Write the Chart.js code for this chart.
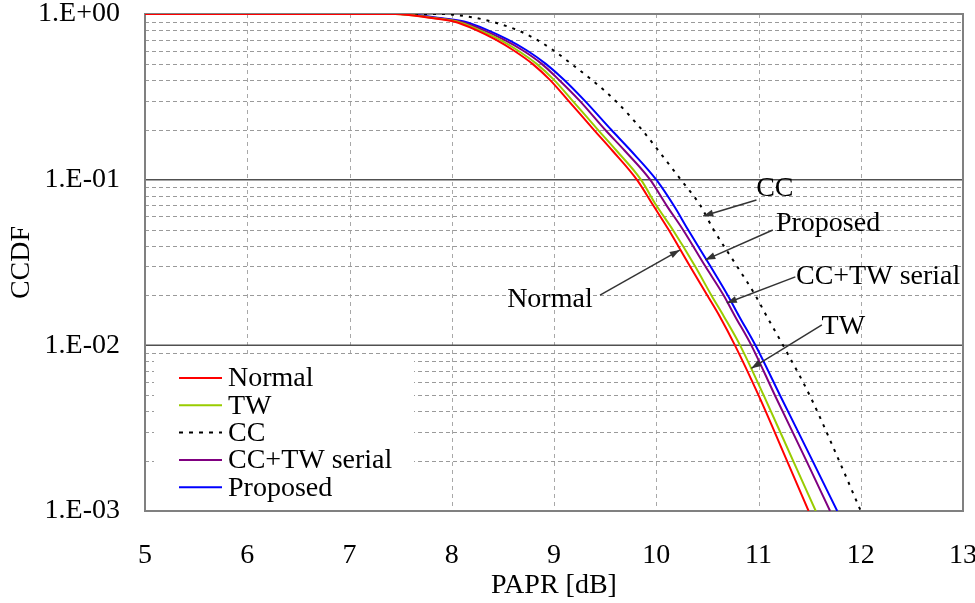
<!DOCTYPE html>
<html>
<head>
<meta charset="utf-8">
<script src="https://cdn.jsdelivr.net/npm/chart.js@4.4.1/dist/chart.umd.min.js"></script>
<style>
  html, body { margin: 0; padding: 0; background: #fff; }
  #wrap { width: 975px; height: 603px; }
</style>
</head>
<body>
<div id="wrap"><canvas id="ccdf_chart"></canvas></div>
<script>
// CCDF levels shared by every curve, and the PAPR [dB] where each curve hits them
var ccdfLevels   = [1, 0.95, 0.9, 0.8, 0.7, 0.6, 0.5, 0.4, 0.3, 0.2, 0.15, 0.1, 0.07, 0.05, 0.03, 0.02, 0.015, 0.01, 0.005, 0.002, 0.001];
var normalPapr   = [7.45, 7.78, 8.02, 8.24, 8.43, 8.61, 8.79, 8.96, 9.14, 9.39, 9.57, 9.81, 9.97, 10.12, 10.33, 10.50, 10.62, 10.77, 11.00, 11.28, 11.49];
var twPapr       = [7.45, 7.80, 8.05, 8.27, 8.47, 8.65, 8.83, 9.00, 9.18, 9.43, 9.61, 9.85, 10.00, 10.16, 10.38, 10.54, 10.66, 10.82, 11.05, 11.34, 11.56];
var ccPapr       = [7.90, 8.22, 8.39, 8.64, 8.83, 9.00, 9.17, 9.37, 9.60, 9.86, 10.02, 10.24, 10.43, 10.56, 10.79, 10.97, 11.08, 11.24, 11.50, 11.79, 12.00];
var serialPapr   = [7.50, 7.83, 8.08, 8.31, 8.51, 8.70, 8.88, 9.05, 9.25, 9.50, 9.69, 9.94, 10.10, 10.26, 10.48, 10.66, 10.77, 10.93, 11.16, 11.47, 11.70];
var proposedPapr = [7.50, 7.86, 8.12, 8.35, 8.55, 8.74, 8.92, 9.10, 9.30, 9.56, 9.75, 10.00, 10.17, 10.31, 10.53, 10.70, 10.81, 10.97, 11.21, 11.53, 11.77];

var xTicks = [5, 6, 7, 8, 9, 10, 11, 12, 13];
var yDecades = [1, 0.1, 0.01, 0.001];

// text labels with arrows: [text, label x, label y, arrow from x, from y, tip x, tip y]
var callouts = [
    ["CC",           11.16, 0.0891, 10.98, 0.0754, 10.46, 0.0604],
    ["Proposed",     11.68, 0.0548, 11.14, 0.0497, 10.48, 0.0328],
    ["CC+TW serial", 12.17, 0.0262, 11.36, 0.0259, 10.69, 0.0180],
    ["TW",           11.83, 0.0131, 11.62, 0.0133, 10.93, 0.00727],
    ["Normal",        8.96, 0.0191,  9.45, 0.0201, 10.23, 0.0376]
];

var serif = '"Liberation Serif", "Times New Roman", serif';

function toPoints(paprs) {
    var pts = [{x: 5, y: 1}];
    for (var i = 0; i < paprs.length; i++) {
        pts.push({x: paprs[i], y: ccdfLevels[i]});
    }
    return pts;
}

function expLabel(v) {
    var e = Math.round(Math.log10(v));
    if (e >= 0) return "1.E+0" + e;
    return "1.E-0" + (-e);
}

// grid + frame under the curves
var gridPlugin = {
    id: 'grid_frame',
    beforeDatasetsDraw: function(chart) {
        var ctx = chart.ctx;
        var a = chart.chartArea;
        var xs = chart.scales.x, ys = chart.scales.y;
        ctx.save();
        ctx.lineWidth = 1;
        // vertical dashed
        ctx.strokeStyle = "#a8a8a8";
        ctx.setLineDash([4, 4]);
        for (var v of xTicks) {
            var px = Math.round(xs.getPixelForValue(v)) + 0.5;
            ctx.beginPath(); ctx.moveTo(px, a.top); ctx.lineTo(px, a.bottom); ctx.stroke();
        }
        // minor horizontal dashed
        ctx.strokeStyle = "#9a9a9a";
        ctx.setLineDash([4, 3]);
        for (var d = 0; d < yDecades.length - 1; d++) {
            for (var m = 2; m <= 9; m++) {
                var py = Math.round(ys.getPixelForValue(yDecades[d + 1] * m)) + 0.5;
                ctx.beginPath(); ctx.moveTo(a.left, py); ctx.lineTo(a.right, py); ctx.stroke();
            }
        }
        // major horizontal solid
        ctx.setLineDash([]);
        ctx.strokeStyle = "#505050";
        ctx.lineWidth = 1.5;
        for (var v2 of yDecades) {
            var py2 = ys.getPixelForValue(v2);
            ctx.beginPath(); ctx.moveTo(a.left, py2); ctx.lineTo(a.right, py2); ctx.stroke();
        }
        // frame
        ctx.strokeStyle = "#808080";
        ctx.lineWidth = 2;
        ctx.strokeRect(a.left, a.top, a.right - a.left, a.bottom - a.top);
        ctx.restore();
    }
};

// legend box in the lower-left corner + arrow callouts
var overlayPlugin = {
    id: 'overlay',
    afterDatasetsDraw: function(chart) {
        var ctx = chart.ctx;
        var xs = chart.scales.x, ys = chart.scales.y;
        ctx.save();

        // legend
        ctx.fillStyle = "#fff";
        ctx.fillRect(154, 356, 260, 154);
        var rowY = 378;
        ctx.font = "28px " + serif;
        ctx.textAlign = "left";
        ctx.textBaseline = "middle";
        for (var ds of chart.data.datasets) {
            ctx.strokeStyle = ds.borderColor;
            ctx.lineWidth = 2;
            ctx.setLineDash(ds.borderDash ? [4, 6] : []);
            ctx.beginPath(); ctx.moveTo(179, rowY); ctx.lineTo(222, rowY); ctx.stroke();
            ctx.setLineDash([]);
            ctx.fillStyle = "#000";
            ctx.fillText(ds.label, 228, rowY + 1);
            rowY += 27.3;
        }

        // callouts
        ctx.textAlign = "center";
        for (var c of callouts) {
            var lx = xs.getPixelForValue(c[1]), ly = ys.getPixelForValue(c[2]);
            var fx = xs.getPixelForValue(c[3]), fy = ys.getPixelForValue(c[4]);
            var tx = xs.getPixelForValue(c[5]), ty = ys.getPixelForValue(c[6]);
            ctx.fillStyle = "#000";
            ctx.fillText(c[0], lx, ly + 1);
            ctx.strokeStyle = "#333";
            ctx.lineWidth = 1.5;
            ctx.beginPath(); ctx.moveTo(fx, fy); ctx.lineTo(tx, ty); ctx.stroke();
            var ang = Math.atan2(ty - fy, tx - fx);
            ctx.fillStyle = "#333";
            ctx.beginPath();
            ctx.moveTo(tx, ty);
            ctx.lineTo(tx - 10 * Math.cos(ang) + 3.5 * Math.sin(ang), ty - 10 * Math.sin(ang) - 3.5 * Math.cos(ang));
            ctx.lineTo(tx - 10 * Math.cos(ang) - 3.5 * Math.sin(ang), ty - 10 * Math.sin(ang) + 3.5 * Math.cos(ang));
            ctx.closePath();
            ctx.fill();
        }
        ctx.restore();
    }
};

var ctx = document.getElementById('ccdf_chart').getContext('2d');
var myChart = new Chart(ctx, {
    type: 'line',
    data: {
        datasets: [
            {label: 'Normal', data: toPoints(normalPapr), borderColor: '#ff0000'},
            {label: 'TW', data: toPoints(twPapr), borderColor: '#99cc00'},
            {label: 'CC', data: toPoints(ccPapr), borderColor: '#000000', borderDash: [3, 6]},
            {label: 'CC+TW serial', data: toPoints(serialPapr), borderColor: '#800080'},
            {label: 'Proposed', data: toPoints(proposedPapr), borderColor: '#0000ff'}
        ]
    },
    options: {
        responsive: true,
        maintainAspectRatio: false,
        animation: false,
        events: [],
        datasets: {
            line: {borderWidth: 2, pointRadius: 0, cubicInterpolationMode: 'monotone', fill: false}
        },
        layout: {autoPadding: false, padding: {top: 14, right: 12, left: 0, bottom: 0}},
        plugins: {
            legend: {display: false},
            tooltip: {enabled: false}
        },
        scales: {
            x: {
                type: 'linear',
                min: 5, max: 13,
                afterBuildTicks: function(scale) {
                    scale.ticks = xTicks.map(function(v) { return {value: v}; });
                },
                afterFit: function(scale) {
                    scale.height = 92;
                    scale.paddingLeft = 0; scale.paddingRight = 0;
                    scale.paddingTop = 0; scale.paddingBottom = 0;
                },
                grid: {display: false, drawTicks: false},
                border: {display: false},
                ticks: {
                    color: '#000', padding: 28, maxRotation: 0,
                    font: {family: serif, size: 28}
                },
                title: {
                    display: true, text: 'PAPR [dB]', color: '#000',
                    padding: {top: 0, bottom: 1},
                    font: {family: serif, size: 28}
                }
            },
            y: {
                type: 'logarithmic',
                min: 0.001, max: 1,
                afterBuildTicks: function(scale) {
                    scale.ticks = yDecades.map(function(v) { return {value: v}; });
                },
                afterFit: function(scale) {
                    scale.width = 145;
                    scale.paddingLeft = 0; scale.paddingRight = 0;
                    scale.paddingTop = 0; scale.paddingBottom = 0;
                },
                grid: {display: false, drawTicks: false},
                border: {display: false},
                ticks: {
                    color: '#000', padding: 25,
                    font: {family: serif, size: 28},
                    callback: function(v) { return expLabel(v); }
                },
                title: {
                    display: true, text: 'CCDF', color: '#000',
                    padding: {top: 5, bottom: 0},
                    font: {family: serif, size: 28}
                }
            }
        }
    },
    plugins: [gridPlugin, overlayPlugin]
});
</script>
</body>
</html>
